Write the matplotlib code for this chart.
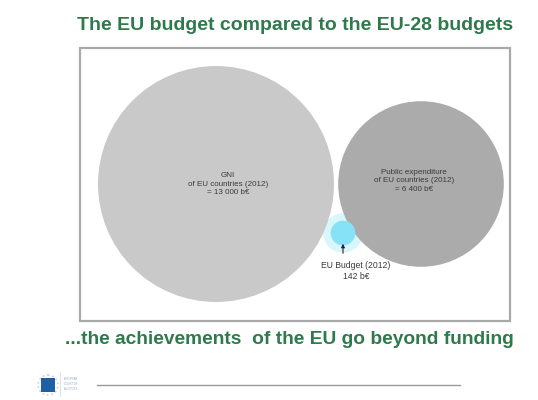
import numpy as np
import matplotlib
matplotlib.use('Agg')
import matplotlib.pyplot as plt
from matplotlib.patches import Circle, Rectangle

# values (billion EUR, 2012)
labels = ['GNI\nof EU countries (2012)\n= 13 000 b\u20ac',
          'Public expenditure\nof EU countries (2012)\n= 6 400 b\u20ac',
          'EU Budget (2012)\n142 b\u20ac']
values = [13000, 6400, 142]
colors = ['#c9c9c9', '#ababab', '#86e3f7']

title = 'The EU budget compared to the EU-28 budgets'
footer = '...the achievements  of the EU go beyond funding'

plt.rcParams['font.family'] = ['Liberation Sans', 'DejaVu Sans']

fig = plt.figure(figsize=(5.38, 4.0), dpi=100)
ax = fig.add_axes([0, 0, 1, 1])
ax.set_xlim(0, 538)
ax.set_ylim(400, 0)
ax.set_aspect('equal')
ax.axis('off')

# radius scale: area proportional to value
scale = 118 / np.sqrt(values[0])
radii = [scale * np.sqrt(v) for v in values]

# frame
ax.add_patch(Rectangle((80, 48), 430, 273, fill=False, ec='#a9a9a9', lw=1.6))

centers = [(216, 184), (421, 184), (343, 233)]
# glow around the small circle
ax.add_patch(Circle(centers[2], radii[2] * 1.6, color='#d8f6fc', lw=0, zorder=1))
for c, r, col in zip(centers, radii, colors):
    ax.add_patch(Circle(c, r, color=col, lw=0, zorder=2))

ax.text(228, 184, labels[0], ha='center', va='center', fontsize=5.8,
        color='#3a3a3a', linespacing=1.35, zorder=3)
ax.text(414, 181, labels[1], ha='center', va='center', fontsize=5.8,
        color='#3a3a3a', linespacing=1.35, zorder=3)
ax.text(356, 271, labels[2], ha='center', va='center', fontsize=6.2,
        color='#3a3a3a', linespacing=1.35, zorder=3)
ax.annotate('', xy=(343, 241), xytext=(343, 256),
            arrowprops=dict(arrowstyle='-|>', color='#222222', lw=0.8,
                            mutation_scale=5), zorder=3)

ax.text(295, 25, title, ha='center', va='center', fontsize=14,
        fontweight='bold', color='#2f7a4d')
ax.text(289, 339, footer, ha='center', va='center', fontsize=13.8,
        fontweight='bold', color='#2f7a4d')

# logo and footer line
ax.add_patch(Circle((48, 385), 10, fill=False, ec='#c9d3e3', lw=1.2, ls=':'))
ax.add_patch(Rectangle((41, 378), 14, 14, color='#1f5fa3', lw=0))
ax.plot([60, 60], [372, 396], color='#dde3ea', lw=0.8)
ax.text(64, 384, 'EUROPEAN\nCOURT OF\nAUDITORS', fontsize=1.8, color='#8fa6c4',
        va='center', linespacing=1.3)
ax.plot([97, 460], [385, 385], color='#9a9a9a', lw=1.0)

fig.savefig('out.png', dpi=100)
